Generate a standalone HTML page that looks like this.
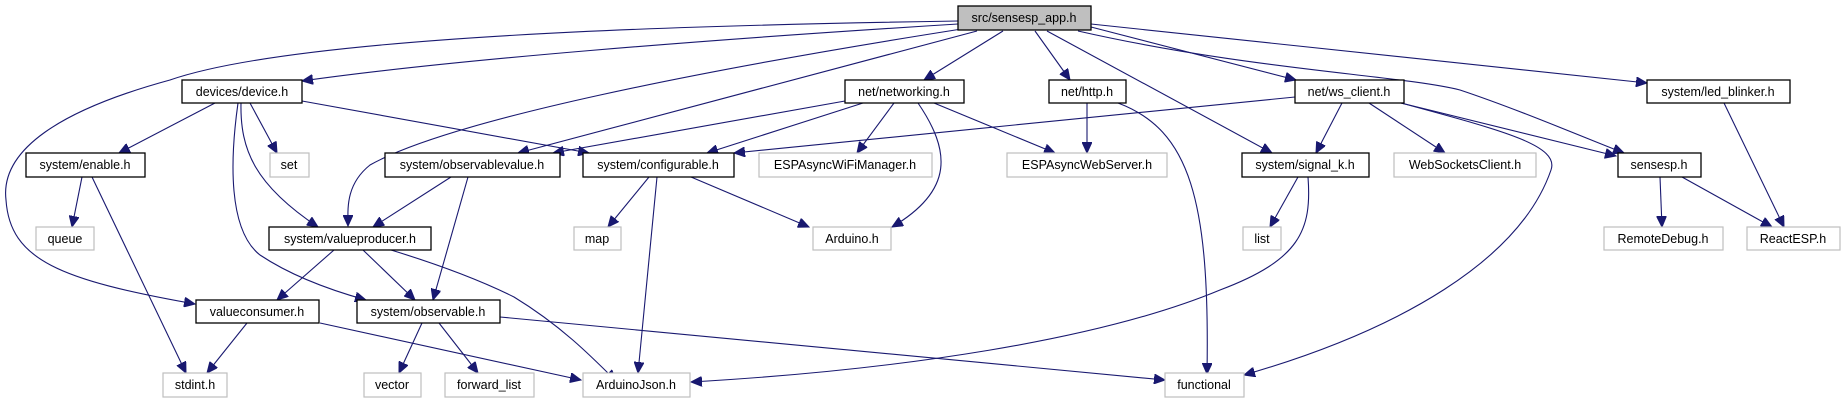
<!DOCTYPE html>
<html><head><meta charset="utf-8"><style>
html,body{margin:0;padding:0;background:#fff;}
svg{display:block}
text{font-family:"Liberation Sans",Arial,sans-serif;font-size:12.5px;fill:#000;text-anchor:middle}
.n{fill:#fff;stroke:#000;stroke-width:1.3}
.g{fill:#fff;stroke:#bfbfbf;stroke-width:1.2}
.e{fill:none;stroke:#191970;stroke-width:1.1}
</style></head><body>
<svg width="1844" height="403" viewBox="0 0 1844 403" xmlns="http://www.w3.org/2000/svg">
<defs><marker id="a" markerUnits="userSpaceOnUse" markerWidth="12" markerHeight="10" refX="11" refY="5" orient="auto"><path d="M0,0 L11,5 L0,10 Z" fill="#191970" stroke="#191970"/></marker></defs>
<g class="e" marker-end="url(#a)">
<path d="M958,21 C700,25 300,35 170,80 C60,110 0,150 6,200 C10,260 60,280 195,304"/>
<path d="M958,24 C700,40 450,60 302,81"/>
<path d="M968,28 C700,70 450,120 370,165 C345,185 348,210 348,226"/>
<path d="M977,31 L518,153"/>
<path d="M1003,31 L924,80"/>
<path d="M1035,31 L1070,80"/>
<path d="M1047,31 L1272,153"/>
<path d="M1078,31 C1250,70 1400,75 1460,90 C1520,110 1590,140 1624,153"/>
<path d="M1091,27 L1296,80"/>
<path d="M1091,24 L1647,83"/>
<path d="M215,103 L119,153"/>
<path d="M250,103 L277,153"/>
<path d="M241,103 C240,150 255,185 318,227"/>
<path d="M238,103 C230,160 228,230 260,255 C290,275 330,290 366,300"/>
<path d="M302,101 L589,153"/>
<path d="M845,101 L553,153"/>
<path d="M863,103 L707,153"/>
<path d="M894,103 L857,153"/>
<path d="M918,103 C950,150 955,190 892,227"/>
<path d="M934,103 L1055,153"/>
<path d="M1087,103 L1087,153"/>
<path d="M1118,103 C1190,130 1210,200 1207,374"/>
<path d="M1295,97 L734,153"/>
<path d="M1342,103 L1316,153"/>
<path d="M1369,103 L1445,153"/>
<path d="M1401,103 L1616,156"/>
<path d="M1401,103 C1500,130 1560,145 1551,170 C1520,260 1400,330 1244,375"/>
<path d="M1724,103 L1784,227"/>
<path d="M1660,177 L1662,227"/>
<path d="M1682,177 L1772,227"/>
<path d="M1298,177 L1270,227"/>
<path d="M1308,177 C1312,230 1300,260 1220,290 C1100,340 900,370 691,382"/>
<path d="M82,177 L72,227"/>
<path d="M92,177 L186,373"/>
<path d="M649,177 L608,227"/>
<path d="M657,177 L638,373"/>
<path d="M691,177 L809,227"/>
<path d="M451,177 L373,227"/>
<path d="M468,177 L433,300"/>
<path d="M334,250 L277,300"/>
<path d="M363,250 L415,300"/>
<path d="M391,250 C440,265 480,280 514,297 C560,325 590,355 616,381"/>
<path d="M247,323 L207,373"/>
<path d="M320,323 L581,380"/>
<path d="M422,323 L399,373"/>
<path d="M439,323 L478,373"/>
<path d="M500,317 L1165,380"/>
</g>
<rect x="958" y="6" width="133" height="24" fill="#bfbfbf" stroke="#000" stroke-width="1.3"/><text x="1024" y="22">src/sensesp_app.h</text>
<rect class="n" x="182" y="80" width="120" height="23"/><text x="242" y="96">devices/device.h</text>
<rect class="n" x="845" y="80" width="119" height="23"/><text x="904" y="96">net/networking.h</text>
<rect class="n" x="1049" y="80" width="77" height="23"/><text x="1087" y="96">net/http.h</text>
<rect class="n" x="1295" y="80" width="109" height="23"/><text x="1349" y="96">net/ws_client.h</text>
<rect class="n" x="1647" y="80" width="143" height="23"/><text x="1718" y="96">system/led_blinker.h</text>
<rect class="n" x="26" y="153" width="119" height="24"/><text x="85" y="169">system/enable.h</text>
<rect class="g" x="270" y="153" width="39" height="24"/><text x="289" y="169">set</text>
<rect class="n" x="385" y="153" width="175" height="24"/><text x="472" y="169">system/observablevalue.h</text>
<rect class="n" x="583" y="153" width="151" height="24"/><text x="658" y="169">system/configurable.h</text>
<rect class="g" x="759" y="153" width="173" height="24"/><text x="845" y="169">ESPAsyncWiFiManager.h</text>
<rect class="g" x="1007" y="153" width="160" height="24"/><text x="1087" y="169">ESPAsyncWebServer.h</text>
<rect class="n" x="1242" y="153" width="127" height="24"/><text x="1305" y="169">system/signal_k.h</text>
<rect class="g" x="1394" y="153" width="142" height="24"/><text x="1465" y="169">WebSocketsClient.h</text>
<rect class="n" x="1618" y="153" width="83" height="24"/><text x="1659" y="169">sensesp.h</text>
<rect class="g" x="36" y="227" width="58" height="23"/><text x="65" y="243">queue</text>
<rect class="n" x="269" y="227" width="162" height="23"/><text x="350" y="243">system/valueproducer.h</text>
<rect class="g" x="574" y="227" width="47" height="23"/><text x="597" y="243">map</text>
<rect class="g" x="813" y="227" width="78" height="23"/><text x="852" y="243">Arduino.h</text>
<rect class="g" x="1243" y="227" width="38" height="23"/><text x="1262" y="243">list</text>
<rect class="g" x="1604" y="227" width="119" height="23"/><text x="1663" y="243">RemoteDebug.h</text>
<rect class="g" x="1747" y="227" width="93" height="23"/><text x="1793" y="243">ReactESP.h</text>
<rect class="n" x="196" y="300" width="123" height="23"/><text x="257" y="316">valueconsumer.h</text>
<rect class="n" x="357" y="300" width="143" height="23"/><text x="428" y="316">system/observable.h</text>
<rect class="g" x="163" y="373" width="64" height="24"/><text x="195" y="389">stdint.h</text>
<rect class="g" x="364" y="373" width="57" height="24"/><text x="392" y="389">vector</text>
<rect class="g" x="445" y="373" width="89" height="24"/><text x="489" y="389">forward_list</text>
<rect class="g" x="583" y="373" width="107" height="24"/><text x="636" y="389">ArduinoJson.h</text>
<rect class="g" x="1165" y="373" width="79" height="24"/><text x="1204" y="389">functional</text>
</svg>
</body></html>
